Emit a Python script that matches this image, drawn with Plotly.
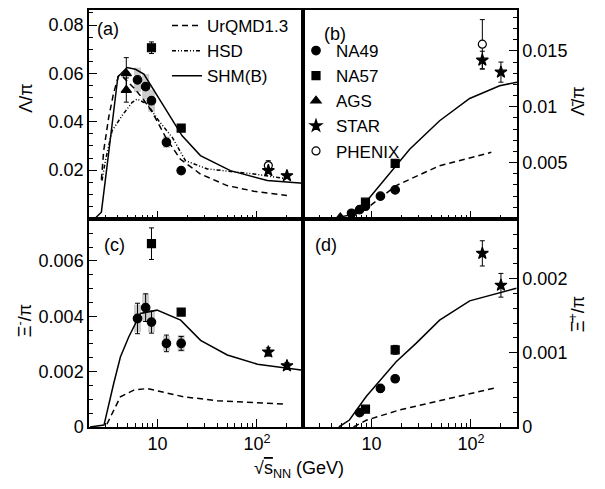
import math
import plotly.graph_objects as go

# ---------------- data ----------------
# beam energies sqrt(s_NN) in GeV
E_AGS = [4.86]
E_NA49 = [6.3, 7.6, 8.7, 12.3, 17.3]
E_NA57 = [8.7, 17.3]
E_STAR = [130, 200]
E_PHENIX = [130]
E_NA49_AXI = [7.6, 12.3, 17.3]

# (a) Lambda / pi
ags_lam = [0.0600, 0.0531]
ags_lam_err = [0.0065, 0.0050]
na49_lam = [0.0573, 0.0545, 0.0487, 0.0315, 0.0198]
na49_lam_err = [0.0010, 0.0010, 0.0009, 0.0007, 0.0005]
na49_lam_sys = [0.0050, 0.0052, 0.0046, 0.0024, 0.0010]
na57_lam = [0.0706, 0.0374]
na57_lam_err = [0.0024, 0.0012]
star_lam = [0.0198, 0.0177]
star_lam_err = [0.0008, 0.0006]
phenix_lam = [0.0219]
phenix_lam_err = [0.0020]

# (b) anti-Lambda / pi
ags_alam = [0.0001]
na49_alam = [0.00047, 0.0008, 0.0011, 0.0020, 0.00256]
na49_alam_err = [0.00004, 0.00004, 0.00005, 0.00006, 0.00008]
na57_alam = [0.00146, 0.00494]
na57_alam_err = [0.0001, 0.0002]
star_alam = [0.01417, 0.0131]
star_alam_err = [0.0008, 0.0009]
phenix_alam = [0.0156]
phenix_alam_err = [0.0022]

# (c) Xi- / pi
na49_xi = [0.00392, 0.00431, 0.00379, 0.00302, 0.00302]
na49_xi_err = [0.00055, 0.0005, 0.0004, 0.0003, 0.00025]
na49_xi_sys = [0.0005, 0.0005, 0.00037, 0.00027, 0.0003]
na57_xi = [0.00662, 0.00415]
na57_xi_err = [0.00057, 0.0001]
star_xi = [0.00271, 0.00221]
star_xi_err = [0.00015, 0.00012]

# (d) anti-Xi+ / pi
na49_axi = [0.000193, 0.00052, 0.00065]
na49_axi_err = [0.00003, 0.00005, 0.00004]
na57_axi = [0.00024, 0.00104]
na57_axi_err = [0.00004, 0.00006]
star_axi = [0.00234, 0.00191]
star_axi_err = [0.00017, 0.00016]

# model curves
urqmd_e_a = [2.73, 2.88, 3.24, 3.63, 4.07, 4.5, 5.8, 7.3, 8.85, 10, 12.3, 17, 27, 50, 93, 200]
urqmd_a = [0.016, 0.028, 0.042, 0.052, 0.059, 0.0585, 0.054, 0.049, 0.044, 0.040, 0.033, 0.0245, 0.0184, 0.0136, 0.0113, 0.0095]
hsd_e_a = [2.77, 3.0, 3.5, 4.4, 5.56, 6.25, 7.9, 10.3, 14.1, 19.1, 31.7, 93, 202]
hsd_a = [0.0157, 0.024, 0.0363, 0.0425, 0.048, 0.0494, 0.0473, 0.0404, 0.0335, 0.0239, 0.0205, 0.0184, 0.0164]
shm_e_a = [2.35, 2.73, 3.1, 3.6, 4.0, 4.95, 6.0, 7.3, 8.85, 11.1, 14.1, 17.7, 27, 54, 127, 290]
shm_a = [0, 0.0026, 0.021, 0.042, 0.0586, 0.0624, 0.0617, 0.0597, 0.0542, 0.0473, 0.0404, 0.0342, 0.026, 0.0198, 0.0157, 0.0146]

urqmd_e_b = [5.3, 6.0, 8.85, 17.7, 48.4, 160]
urqmd_b = [0, 0.0001, 0.00087, 0.00295, 0.00473, 0.00592]
shm_e_b = [4.05, 6.0, 8.85, 17.7, 24.2, 48.4, 97, 194, 290]
shm_b = [0, 0.0003, 0.0015, 0.0047, 0.0062, 0.00875, 0.01074, 0.01188, 0.0122]

urqmd_e_c = [3.1, 3.6, 4.24, 5.77, 7.87, 18.4, 39.9, 187]
urqmd_c = [0.0001, 0.0006, 0.00109, 0.00133, 0.00139, 0.00109, 0.00095, 0.00083]
shm_e_c = [2.1, 2.9, 3.63, 4.24, 5.14, 6.75, 9.9, 17.1, 27.1, 50.3, 101, 290]
shm_c = [0, 0.00007, 0.00157, 0.00253, 0.00325, 0.0041, 0.00422, 0.00386, 0.00313, 0.0026, 0.00227, 0.00205]

urqmd_e_d = [6.6, 8.85, 19.1, 53, 180]
urqmd_d = [0, 0.00009, 0.00023, 0.00037, 0.00053]
shm_e_d = [4.7, 6.0, 8.85, 17.7, 28.2, 48.4, 97, 286]
shm_d = [0, 0.000094, 0.00041, 0.00088, 0.00113, 0.00144, 0.0017, 0.00187]

# axis ticks
x_major = [10, 100]
x_major_text = ["10", "10<sup>2</sup>"]
x_minor = [3, 4, 5, 6, 7, 8, 9, 20, 30, 40, 50, 60, 70, 80, 90, 200]

# ---------------- figure ----------------
W, H = 605, 489
ML, MR, MT, MB = 89, 88, 9, 62
FONT = "Liberation Sans, Arial, sans-serif"
fig = go.Figure()


def px(xp):
    return (xp - ML) / (W - ML - MR)


def py(yp):
    return 1 - (yp - MT) / (H - MT - MB)


def add_sys(x, y, sys, xa, ya):
    fig.add_trace(go.Scatter(
        x=x, y=y, mode="markers", xaxis=xa, yaxis=ya, showlegend=False,
        marker=dict(size=1, color="rgba(0,0,0,0)"),
        error_y=dict(type="data", array=sys, visible=True, color="#cccccc",
                     thickness=7, width=0),
        hoverinfo="skip"))


def add_curve(x, y, xa, ya, dash, name, show):
    fig.add_trace(go.Scatter(
        x=x, y=y, mode="lines", xaxis=xa, yaxis=ya, name=name,
        showlegend=show, legend="legend",
        line=dict(color="black", width=1.5, dash=dash)))


def add_points(x, y, err, xa, ya, symbol, size, name, show, fill="black"):
    kw = {}
    if err is not None:
        kw["error_y"] = dict(type="data", array=err, visible=True,
                             color="black", thickness=1, width=2.5)
    fig.add_trace(go.Scatter(
        x=x, y=y, mode="markers", xaxis=xa, yaxis=ya, name=name,
        showlegend=show, legend="legend2",
        marker=dict(symbol=symbol, size=size, color=fill,
                    line=dict(color="black", width=1.2)),
        **kw))


DASH_URQMD = "6px,4px"
DASH_HSD = "4px,2px,1px,2px,1px,2px"
S_CIRC, S_SQ, S_TRI, S_STAR, S_OPEN = 8.5, 8, 9, 9, 8

# systematic boxes
add_sys(E_NA49, na49_lam, na49_lam_sys, "x", "y")
add_sys(E_NA49, na49_xi, na49_xi_sys, "x3", "y3")

# model curves
add_curve(urqmd_e_a, urqmd_a, "x", "y", DASH_URQMD, "UrQMD1.3", True)
add_curve(hsd_e_a, hsd_a, "x", "y", DASH_HSD, "HSD", True)
add_curve(shm_e_a, shm_a, "x", "y", "solid", "SHM(B)", True)
add_curve(urqmd_e_b, urqmd_b, "x2", "y2", DASH_URQMD, "UrQMD1.3", False)
add_curve(shm_e_b, shm_b, "x2", "y2", "solid", "SHM(B)", False)
add_curve(urqmd_e_c, urqmd_c, "x3", "y3", DASH_URQMD, "UrQMD1.3", False)
add_curve(shm_e_c, shm_c, "x3", "y3", "solid", "SHM(B)", False)
add_curve(urqmd_e_d, urqmd_d, "x4", "y4", DASH_URQMD, "UrQMD1.3", False)
add_curve(shm_e_d, shm_d, "x4", "y4", "solid", "SHM(B)", False)

# (a)
add_points(E_AGS * 2, ags_lam, ags_lam_err, "x", "y", "triangle-up", S_TRI, "AGS", False)
add_points(E_NA49, na49_lam, na49_lam_err, "x", "y", "circle", S_CIRC, "NA49", False)
add_points(E_NA57, na57_lam, na57_lam_err, "x", "y", "square", S_SQ, "NA57", False)
add_points(E_PHENIX, phenix_lam, phenix_lam_err, "x", "y", "circle", S_OPEN, "PHENIX", False, fill="white")
add_points(E_STAR, star_lam, star_lam_err, "x", "y", "star", S_STAR, "STAR", False)

# (b) -- carries the marker legend
add_points(E_NA49, na49_alam, na49_alam_err, "x2", "y2", "circle", S_CIRC, "NA49", True)
add_points(E_NA57, na57_alam, na57_alam_err, "x2", "y2", "square", S_SQ, "NA57", True)
add_points(E_AGS, ags_alam, None, "x2", "y2", "triangle-up", S_TRI, "AGS", True)
add_points(E_PHENIX, phenix_alam, phenix_alam_err, "x2", "y2", "circle", S_OPEN, "PHENIX", False, fill="white")
add_points(E_STAR, star_alam, star_alam_err, "x2", "y2", "star", S_STAR, "STAR", True)
add_points(E_PHENIX, [None], None, "x2", "y2", "circle", S_OPEN, "PHENIX", True, fill="white")

# (c)
add_points(E_NA49, na49_xi, na49_xi_err, "x3", "y3", "circle", S_CIRC, "NA49", False)
add_points(E_NA57, na57_xi, na57_xi_err, "x3", "y3", "square", S_SQ, "NA57", False)
add_points(E_STAR, star_xi, star_xi_err, "x3", "y3", "star", S_STAR, "STAR", False)

# (d)
add_points(E_NA49_AXI, na49_axi, na49_axi_err, "x4", "y4", "circle", S_CIRC, "NA49", False)
add_points(E_NA57, na57_axi, na57_axi_err, "x4", "y4", "square", S_SQ, "NA57", False)
add_points(E_STAR, star_axi, star_axi_err, "x4", "y4", "star", S_STAR, "STAR", False)

xrange = [math.log10(2.05), math.log10(290)]


def xaxis(domain, anchor, labels):
    return dict(
        type="log", range=xrange, domain=domain, anchor=anchor,
        showline=True, mirror=True, linecolor="black", linewidth=1.5,
        ticks="inside", ticklen=8, tickwidth=1, tickcolor="black",
        tickmode="array", tickvals=x_major, ticktext=x_major_text,
        showticklabels=labels, showgrid=False, zeroline=False,
        tickfont=dict(size=18, color="black", family=FONT),
        minor=dict(ticks="inside", ticklen=4, tickwidth=1, tickcolor="black",
                   tickmode="array", tickvals=x_minor, showgrid=False),
    )


def yaxis(domain, anchor, rng, tickvals, ticktext, minor_dt, side="left"):
    return dict(
        range=rng, domain=domain, anchor=anchor, side=side,
        showline=True, mirror=True, linecolor="black", linewidth=1.5,
        ticks="inside", ticklen=8, tickwidth=1, tickcolor="black",
        tickmode="array", tickvals=tickvals, ticktext=ticktext,
        showgrid=False, zeroline=False,
        tickfont=dict(size=18, color="black", family=FONT),
        minor=dict(ticks="inside", ticklen=4, tickwidth=1, tickcolor="black",
                   tick0=0, dtick=minor_dt, showgrid=False),
    )


fig.update_layout(
    width=W, height=H,
    margin=dict(l=ML, r=MR, t=MT, b=MB, pad=0),
    paper_bgcolor="white", plot_bgcolor="white",
    font=dict(family=FONT, size=18, color="black"),
    xaxis=xaxis([0, 0.5], "y", False),
    xaxis2=xaxis([0.5, 1], "y2", False),
    xaxis3=xaxis([0, 0.5], "y3", True),
    xaxis4=xaxis([0.5, 1], "y4", True),
    yaxis=yaxis([0.5, 1], "x", [0, 0.0862], [0.02, 0.04, 0.06, 0.08],
                ["0.02", "0.04", "0.06", "0.08"], 0.005),
    yaxis2=yaxis([0.5, 1], "x2", [0, 0.01866], [0.005, 0.01, 0.015],
                 ["0.005", "0.01", "0.015"], 0.001, side="right"),
    yaxis3=yaxis([0, 0.5], "x3", [0, 0.00753], [0, 0.002, 0.004, 0.006],
                 ["0", "0.002", "0.004", "0.006"], 0.0005),
    yaxis4=yaxis([0, 0.5], "x4", [0, 0.00281], [0, 0.001, 0.002],
                 ["0", "0.001", "0.002"], 0.0002, side="right"),
    legend=dict(x=px(167), y=py(8), xanchor="left", yanchor="top",
                bgcolor="rgba(0,0,0,0)", borderwidth=0,
                font=dict(size=17, family=FONT, color="black"),
                tracegroupgap=0),
    legend2=dict(x=px(296), y=py(33), xanchor="left", yanchor="top",
                 bgcolor="rgba(0,0,0,0)", borderwidth=0,
                 font=dict(size=17, family=FONT, color="black"),
                 tracegroupgap=0),
)

annotations = [
    dict(text="(a)", x=px(95), y=py(28)),
    dict(text="(b)", x=px(322), y=py(33)),
    dict(text="(c)", x=px(102), y=py(245)),
    dict(text="(d)", x=px(313), y=py(245)),
]
for a in annotations:
    a.update(xref="paper", yref="paper", xanchor="left", yanchor="middle",
             showarrow=False, font=dict(size=18, family=FONT, color="black"))

titles = [
    dict(text="Λ/π", x=px(26), y=py(98)),
    dict(text="Ξ<sup>-</sup>/π", x=px(24), y=py(321)),
    dict(text="Λ\u0304/π", x=px(578), y=py(101)),
    dict(text="Ξ\u0304<sup>+</sup>/π", x=px(577), y=py(314)),
]
for t in titles:
    t.update(xref="paper", yref="paper", xanchor="center", yanchor="middle",
             textangle=-90, showarrow=False,
             font=dict(size=18, family=FONT, color="black"))

xtitle = dict(
    text="√<span style='text-decoration:overline'>s</span><sub>NN</sub> (GeV)",
    x=px(299), y=py(470), xref="paper", yref="paper",
    xanchor="center", yanchor="middle", showarrow=False,
    font=dict(size=18, family=FONT, color="black"))

fig.update_layout(annotations=annotations + titles + [xtitle])

fig.write_html("out.html")
